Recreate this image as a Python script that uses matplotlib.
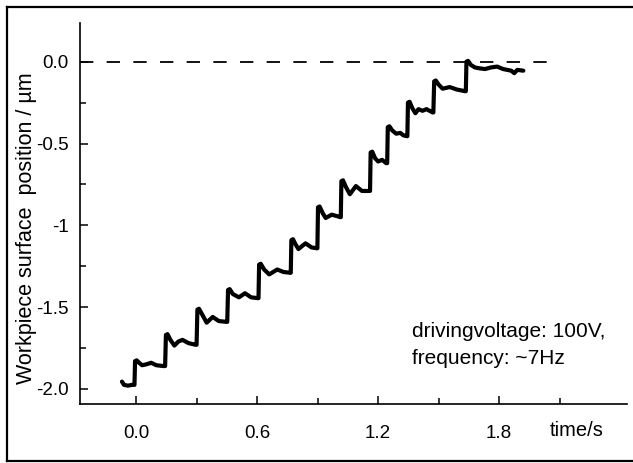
import matplotlib
matplotlib.use("Agg")
import matplotlib.pyplot as plt
from matplotlib.lines import Line2D
from matplotlib.ticker import FixedLocator

plt.rcParams['font.family'] = ['Liberation Sans', 'DejaVu Sans']
plt.rcParams['lines.scale_dashes'] = False

# staircase trace (time in s, position in um)
time_s = [
    -0.07, -0.06, -0.04, -0.02, -0.008,
    -0.005, 0.003, 0.015, 0.03, 0.05, 0.075, 0.10, 0.134, 0.144,
    0.148, 0.156, 0.17, 0.19, 0.21, 0.23, 0.26, 0.295, 0.300,
    0.304, 0.312, 0.33, 0.35, 0.38, 0.41, 0.448, 0.452,
    0.456, 0.464, 0.48, 0.51, 0.54, 0.57, 0.603, 0.607,
    0.61, 0.618, 0.635, 0.66, 0.70, 0.73, 0.763, 0.767,
    0.77, 0.778, 0.79, 0.805, 0.84, 0.87, 0.895, 0.899,
    0.902, 0.91, 0.925, 0.94, 0.97, 1.00, 1.012, 1.015,
    1.018, 1.026, 1.04, 1.06, 1.09, 1.12, 1.155, 1.16,
    1.163, 1.171, 1.185, 1.20, 1.22, 1.24, 1.245,
    1.248, 1.256, 1.27, 1.29, 1.31, 1.325, 1.342, 1.345,
    1.348, 1.356, 1.37, 1.385, 1.40, 1.42, 1.44, 1.47, 1.474,
    1.478, 1.486, 1.50, 1.52, 1.555, 1.59, 1.63, 1.635,
    1.638, 1.646, 1.66, 1.68, 1.70, 1.73, 1.76, 1.79, 1.82, 1.86, 1.875, 1.89, 1.92,
]
position_um = [
    -1.955, -1.975, -1.98, -1.975, -1.975,
    -1.83, -1.825, -1.84, -1.855, -1.85, -1.84, -1.855, -1.86, -1.86,
    -1.67, -1.665, -1.70, -1.735, -1.71, -1.70, -1.72, -1.73, -1.73,
    -1.515, -1.51, -1.55, -1.595, -1.56, -1.585, -1.59, -1.59,
    -1.395, -1.39, -1.42, -1.44, -1.415, -1.44, -1.445, -1.445,
    -1.24, -1.235, -1.27, -1.30, -1.27, -1.285, -1.29, -1.29,
    -1.09, -1.085, -1.115, -1.145, -1.11, -1.135, -1.14, -1.14,
    -0.89, -0.885, -0.925, -0.955, -0.935, -0.945, -0.95, -0.95,
    -0.73, -0.725, -0.765, -0.81, -0.76, -0.79, -0.79, -0.79,
    -0.555, -0.55, -0.59, -0.61, -0.60, -0.62, -0.62,
    -0.40, -0.395, -0.42, -0.44, -0.435, -0.45, -0.455, -0.455,
    -0.25, -0.245, -0.285, -0.315, -0.29, -0.30, -0.29, -0.31, -0.31,
    -0.12, -0.115, -0.14, -0.165, -0.155, -0.17, -0.18, -0.18,
    0.0, 0.005, -0.02, -0.035, -0.04, -0.045, -0.035, -0.03, -0.045, -0.055, -0.07, -0.05, -0.055,
]

x_major = [0.0, 0.6, 1.2, 1.8]
x_labels = ['0.0', '0.6', '1.2', '1.8']
x_minor = [0.3, 0.9, 1.5, 2.1]
y_major = [0.0, -0.5, -1.0, -1.5, -2.0]
y_labels = ['0.0', '-0.5', '-1', '-1.5', '-2.0']
y_minor = [-0.25, -0.75, -1.25, -1.75]
ref_x = [-0.278, 2.04]
ref_y = [0.0, 0.0]

fig = plt.figure(figsize=(6.33, 4.63), dpi=100)
ax = fig.add_axes([80 / 633, 1 - 404 / 463, (627 - 80) / 633, (404 - 23) / 463])

ax.plot(ref_x, ref_y, color='black', lw=1.3, dashes=(9.6, 9.6))
ax.plot(time_s, position_um, color='black', lw=3.0,
        solid_joinstyle='round', solid_capstyle='round')

ax.set_xlim(-0.278, 2.434)
ax.set_ylim(-2.092, 0.2365)

for s in ['top', 'right']:
    ax.spines[s].set_visible(False)
for s in ['left', 'bottom']:
    ax.spines[s].set_linewidth(1.2)

ax.xaxis.set_major_locator(FixedLocator(x_major))
ax.xaxis.set_minor_locator(FixedLocator(x_minor))
ax.set_xticklabels(x_labels)
ax.yaxis.set_major_locator(FixedLocator(y_major))
ax.yaxis.set_minor_locator(FixedLocator(y_minor))
ax.set_yticklabels(y_labels)

ax.tick_params(which='major', direction='in', length=6, width=1.1, labelsize=13.5)
ax.tick_params(which='minor', direction='in', length=4, width=1.1)
ax.tick_params(axis='x', which='major', pad=15)
ax.tick_params(axis='y', which='major', pad=8)

ax.set_ylabel('Workpiece surface  position / µm', fontsize=15.5)
ax.yaxis.set_label_coords(-0.078, 0.461)

fig.text(577 / 633, 1 - 431 / 463, 'time/s', fontsize=14.5, ha='center', va='center')
fig.text(412 / 633, 1 - 337 / 463, 'drivingvoltage: 100V,', fontsize=15,
         ha='left', va='baseline')
fig.text(412 / 633, 1 - 364 / 463, 'frequency: ~7Hz', fontsize=15,
         ha='left', va='baseline')

# outer frame of the scanned figure
fig.add_artist(Line2D([7 / 633, 7 / 633], [1 - 7 / 463, 1 - 461 / 463], color='black', lw=1.6))
fig.add_artist(Line2D([7 / 633, 1.0], [1 - 7 / 463, 1 - 7 / 463], color='black', lw=1.6))
fig.add_artist(Line2D([7 / 633, 1.0], [1 - 461 / 463, 1 - 461 / 463], color='black', lw=1.6))

fig.savefig('out.png', dpi=100)
